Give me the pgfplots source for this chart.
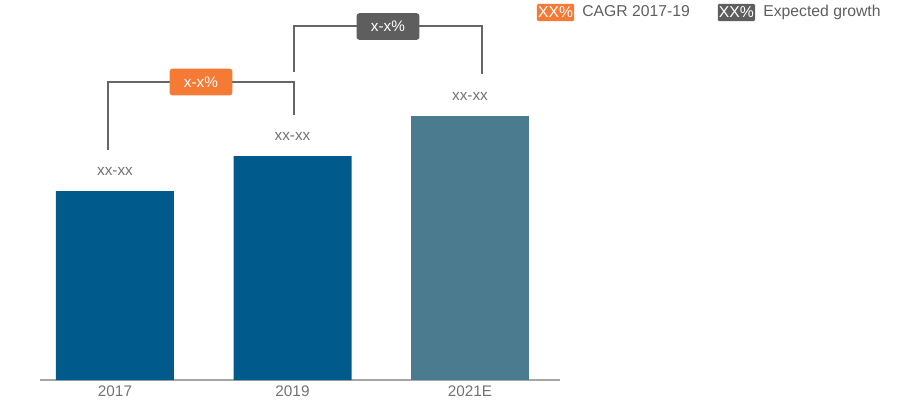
\documentclass[border=0pt]{standalone}
\usepackage{pgfplots}
\pgfplotsset{compat=1.18}
\usepackage{fontspec}
\setmainfont{Liberation Sans}
\definecolor{barblue}{HTML}{005A8C}
\definecolor{barteal}{HTML}{4B7B8E}
\definecolor{orng}{HTML}{F47A36}
\definecolor{dgray}{HTML}{5E5E5E}
\definecolor{lgray}{HTML}{A6A6A6}
\definecolor{tgray}{HTML}{737373}
\definecolor{brgray}{HTML}{666666}
\begin{document}
\begin{tikzpicture}
\useasboundingbox (-30pt,-15.75pt) rectangle (650.25pt,285pt);
\begin{axis}[
 scale only axis, width=390pt, height=285pt,
 xmin=-0.4225, xmax=2.5070, ymin=0, ymax=380,
 axis x line*=bottom, axis y line=none,
 x axis line style={lgray, line width=0.9pt, -},
 xtick={0,1,2}, xticklabels={2017,2019,2021E},
 major tick length=0pt,
 xticklabel style={font=\fontsize{11.5}{13}\selectfont, text=tgray, yshift=-0.5pt},
 ytick=\empty,
 clip=false,
 bar width=88.5pt,
 nodes near coords={xx-xx},
 every node near coord/.append style={anchor=center, yshift=15pt, font=\fontsize{11.5}{13}\selectfont, text=tgray},
]
\addplot[ybar, bar shift=0pt, fill=barblue, draw=none] coordinates {(0,189) (1,224)};
\addplot[ybar, bar shift=0pt, fill=barteal, draw=none] coordinates {(2,264)};
% brackets
\draw[brgray, line width=1pt] (axis cs:-0.0394,230) |- (axis cs:1.0085,298) -- (axis cs:1.0085,265);
\draw[brgray, line width=1pt] (axis cs:1.0085,308) |- (axis cs:2.0676,354) -- (axis cs:2.0676,306);
\node[fill=orng, text=white, rounded corners=2pt, minimum width=47pt, minimum height=20pt, inner sep=0pt, font=\fontsize{11.5}{13}\selectfont] at (axis cs:0.4845,298) {x-x\%};
\node[fill=dgray, text=white, rounded corners=2pt, minimum width=47pt, minimum height=20pt, inner sep=0pt, font=\fontsize{11.5}{13}\selectfont] at (axis cs:1.538,353.5) {x-x\%};
% legend
\node[fill=orng, text=white, rounded corners=1pt, minimum width=28pt, minimum height=13pt, inner sep=0pt, font=\fontsize{11.8}{13}\selectfont] at (axis cs:2.4817,367.5) {XX\%};
\node[anchor=west, inner sep=0pt, text height=1.5ex, text depth=0.25ex, text=dgray, font=\fontsize{11.8}{13}\selectfont] at (axis cs:2.631,367.5) {CAGR 2017-19};
\node[fill=dgray, text=white, rounded corners=1pt, minimum width=28pt, minimum height=13pt, inner sep=0pt, font=\fontsize{11.8}{13}\selectfont] at (axis cs:3.501,367.5) {XX\%};
\node[anchor=west, inner sep=0pt, text height=1.5ex, text depth=0.25ex, text=dgray, font=\fontsize{11.8}{13}\selectfont] at (axis cs:3.651,367.5) {Expected growth};
\end{axis}
\end{tikzpicture}
\end{document}
